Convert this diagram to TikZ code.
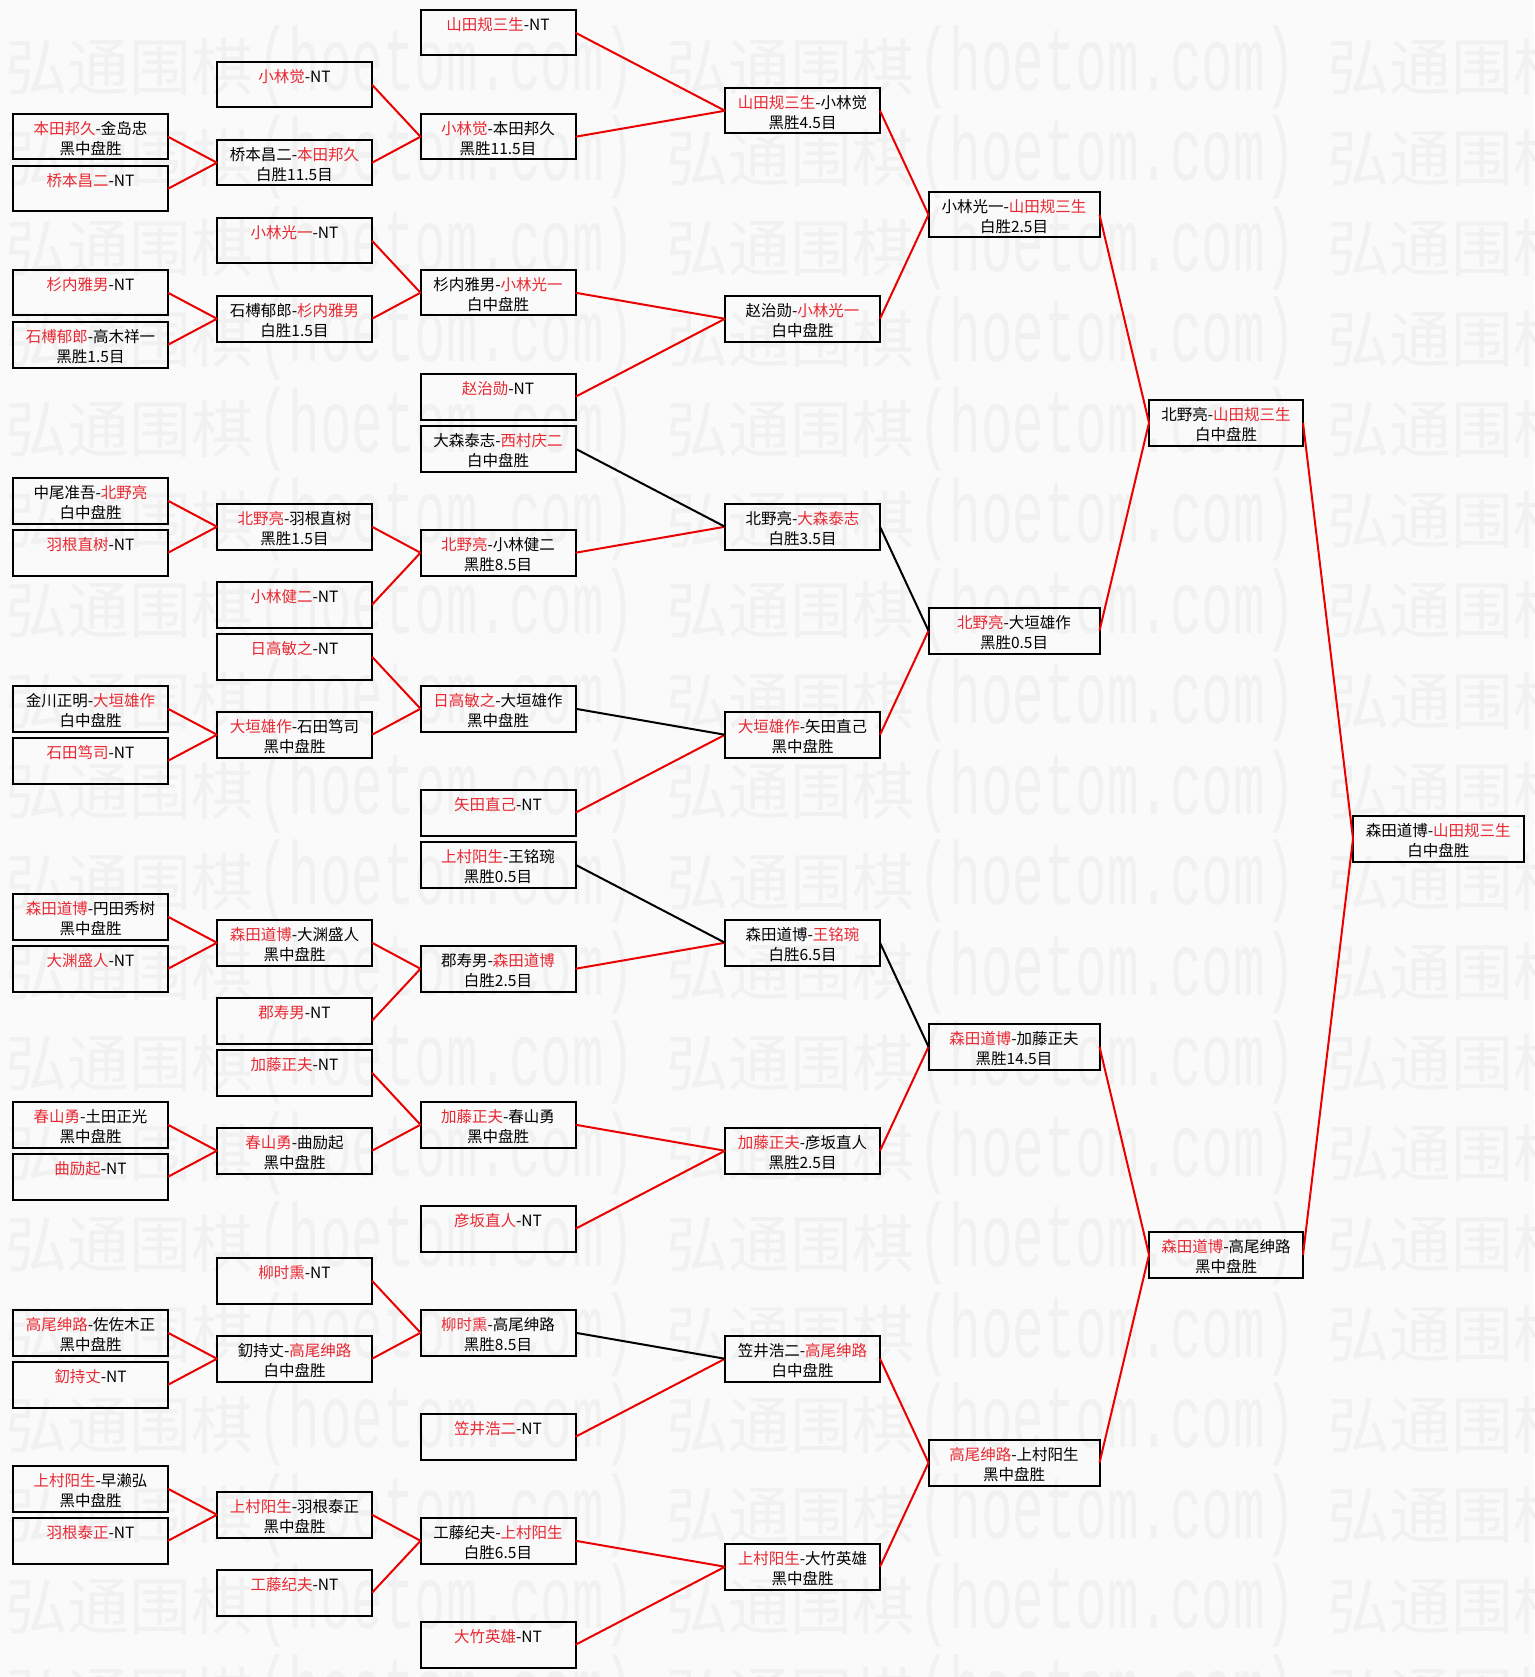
\documentclass[tikz,border=0pt]{standalone}
\usepackage{fontspec}
\usepackage{graphicx}
\setmainfont{Noto Sans CJK SC}
\newfontfamily\wmlatfont{Liberation Mono}
\definecolor{lnred}{RGB}{235,0,0}
\definecolor{txred}{RGB}{232,40,50}
\definecolor{bgc}{RGB}{250,250,250}
\definecolor{wmc}{RGB}{241,241,241}
\newcommand{\rn}[1]{\textcolor{txred}{#1}}
\newcommand{\gb}[5]{%
  \node[#2] (#1) at (0,{10+26*#3}) {};
  \node[gtxt] (#1-a) at ([yshift=-14.5pt]#1.north) {#4};
  \node[gtxt] (#1-b) at ([yshift=-34.5pt]#1.north) {#5};}
\newcommand{\gn}[4]{%
  \node[#2] (#1) at (0,{10+26*#3}) {};
  \node[gtxt] (#1-a) at ([yshift=-14.5pt]#1.north) {#4};}
\tikzset{
  gbox/.style={rectangle, draw=black, line width=2pt, minimum height=45.5pt, inner sep=0pt, outer sep=0pt, anchor=north west},
  c0/.style={gbox, minimum width=155pt, xshift=13pt},
  c1/.style={gbox, minimum width=155pt, xshift=217pt},
  c2/.style={gbox, minimum width=155pt, xshift=420.5pt},
  c3/.style={gbox, minimum width=155pt, xshift=725pt},
  c4/.style={gbox, minimum width=171pt, xshift=928.5pt},
  c5/.style={gbox, minimum width=154pt, xshift=1149pt},
  c6/.style={gbox, minimum width=170.5pt, xshift=1353pt},
  gtxt/.style={inner sep=0pt, text=black, font=\fontsize{15.5}{18}\selectfont},
  rl/.style={draw=lnred, line width=2pt},
  bl/.style={draw=black, line width=2pt},
  wmcj/.style={inner sep=0pt, anchor=west, text=wmc, font=\fontsize{62}{62}\selectfont},
  wmlt/.style={inner sep=0pt, anchor=west, text=wmc, font=\wmlatfont\fontsize{52.5}{52.5}\selectfont}
}
\begin{document}
\begin{tikzpicture}[x=1pt,y=-1pt]
\useasboundingbox (0,0) rectangle (1534,1677);
\fill[bgc] (0,0) rectangle (1534,1677);
\begin{scope}
\clip (0,0) rectangle (1534,1677);
\foreach \r in {0,...,18} {
  \foreach \c in {0,1,2} {
    \node[wmcj] (wc\r x\c) at ({5+661*\c},{67+90.5*\r}) {弘通围棋};
    \node[wmlt] (wl\r x\c) at ({5+661*\c+252},{67+90.5*\r}) {\scalebox{1}[1.7]{(hoetom.com)}};
  }
}
\end{scope}
% column 0
\gb{a1}{c0}{4}{\rn{本田邦久}-金岛忠}{黑中盘胜}
\gn{a2}{c0}{6}{\rn{桥本昌二}-NT}
\gn{a3}{c0}{10}{\rn{杉内雅男}-NT}
\gb{a4}{c0}{12}{\rn{石榑郁郎}-高木祥一}{黑胜1.5目}
\gb{a5}{c0}{18}{中尾准吾-\rn{北野亮}}{白中盘胜}
\gn{a6}{c0}{20}{\rn{羽根直树}-NT}
\gb{a7}{c0}{26}{金川正明-\rn{大垣雄作}}{白中盘胜}
\gn{a8}{c0}{28}{\rn{石田笃司}-NT}
\gb{a9}{c0}{34}{\rn{森田道博}-円田秀树}{黑中盘胜}
\gn{a10}{c0}{36}{\rn{大渊盛人}-NT}
\gb{a11}{c0}{42}{\rn{春山勇}-土田正光}{黑中盘胜}
\gn{a12}{c0}{44}{\rn{曲励起}-NT}
\gb{a13}{c0}{50}{\rn{高尾绅路}-佐佐木正}{黑中盘胜}
\gn{a14}{c0}{52}{\rn{釖持丈}-NT}
\gb{a15}{c0}{56}{\rn{上村阳生}-早濑弘}{黑中盘胜}
\gn{a16}{c0}{58}{\rn{羽根泰正}-NT}
% column 1
\gn{b1}{c1}{2}{\rn{小林觉}-NT}
\gb{b2}{c1}{5}{桥本昌二-\rn{本田邦久}}{白胜11.5目}
\gn{b3}{c1}{8}{\rn{小林光一}-NT}
\gb{b4}{c1}{11}{石榑郁郎-\rn{杉内雅男}}{白胜1.5目}
\gb{b5}{c1}{19}{\rn{北野亮}-羽根直树}{黑胜1.5目}
\gn{b6}{c1}{22}{\rn{小林健二}-NT}
\gn{b7}{c1}{24}{\rn{日高敏之}-NT}
\gb{b8}{c1}{27}{\rn{大垣雄作}-石田笃司}{黑中盘胜}
\gb{b9}{c1}{35}{\rn{森田道博}-大渊盛人}{黑中盘胜}
\gn{b10}{c1}{38}{\rn{郡寿男}-NT}
\gn{b11}{c1}{40}{\rn{加藤正夫}-NT}
\gb{b12}{c1}{43}{\rn{春山勇}-曲励起}{黑中盘胜}
\gn{b13}{c1}{48}{\rn{柳时熏}-NT}
\gb{b14}{c1}{51}{釖持丈-\rn{高尾绅路}}{白中盘胜}
\gb{b15}{c1}{57}{\rn{上村阳生}-羽根泰正}{黑中盘胜}
\gn{b16}{c1}{60}{\rn{工藤纪夫}-NT}
% column 2
\gn{c1}{c2}{0}{\rn{山田规三生}-NT}
\gb{c2}{c2}{4}{\rn{小林觉}-本田邦久}{黑胜11.5目}
\gb{c3}{c2}{10}{杉内雅男-\rn{小林光一}}{白中盘胜}
\gn{c4}{c2}{14}{\rn{赵治勋}-NT}
\gb{c5}{c2}{16}{大森泰志-\rn{西村庆二}}{白中盘胜}
\gb{c6}{c2}{20}{\rn{北野亮}-小林健二}{黑胜8.5目}
\gb{c7}{c2}{26}{\rn{日高敏之}-大垣雄作}{黑中盘胜}
\gn{c8}{c2}{30}{\rn{矢田直己}-NT}
\gb{c9}{c2}{32}{\rn{上村阳生}-王铭琬}{黑胜0.5目}
\gb{c10}{c2}{36}{郡寿男-\rn{森田道博}}{白胜2.5目}
\gb{c11}{c2}{42}{\rn{加藤正夫}-春山勇}{黑中盘胜}
\gn{c12}{c2}{46}{\rn{彦坂直人}-NT}
\gb{c13}{c2}{50}{\rn{柳时熏}-高尾绅路}{黑胜8.5目}
\gn{c14}{c2}{54}{\rn{笠井浩二}-NT}
\gb{c15}{c2}{58}{工藤纪夫-\rn{上村阳生}}{白胜6.5目}
\gn{c16}{c2}{62}{\rn{大竹英雄}-NT}
% column 3
\gb{d1}{c3}{3}{\rn{山田规三生}-小林觉}{黑胜4.5目}
\gb{d2}{c3}{11}{赵治勋-\rn{小林光一}}{白中盘胜}
\gb{d3}{c3}{19}{北野亮-\rn{大森泰志}}{白胜3.5目}
\gb{d4}{c3}{27}{\rn{大垣雄作}-矢田直己}{黑中盘胜}
\gb{d5}{c3}{35}{森田道博-\rn{王铭琬}}{白胜6.5目}
\gb{d6}{c3}{43}{\rn{加藤正夫}-彦坂直人}{黑胜2.5目}
\gb{d7}{c3}{51}{笠井浩二-\rn{高尾绅路}}{白中盘胜}
\gb{d8}{c3}{59}{\rn{上村阳生}-大竹英雄}{黑中盘胜}
% column 4
\gb{e1}{c4}{7}{小林光一-\rn{山田规三生}}{白胜2.5目}
\gb{e2}{c4}{23}{\rn{北野亮}-大垣雄作}{黑胜0.5目}
\gb{e3}{c4}{39}{\rn{森田道博}-加藤正夫}{黑胜14.5目}
\gb{e4}{c4}{55}{\rn{高尾绅路}-上村阳生}{黑中盘胜}
% column 5
\gb{f1}{c5}{15}{北野亮-\rn{山田规三生}}{白中盘胜}
\gb{f2}{c5}{47}{\rn{森田道博}-高尾绅路}{黑中盘胜}
% column 6
\gb{g1}{c6}{31}{森田道博-\rn{山田规三生}}{白中盘胜}
% connectors
\foreach \s/\t in {a1/b2,a2/b2,a3/b4,a4/b4,a5/b5,a6/b5,a7/b8,a8/b8,a9/b9,a10/b9,a11/b12,a12/b12,a13/b14,a14/b14,a15/b15,a16/b15,
  b1/c2,b2/c2,b3/c3,b4/c3,b5/c6,b6/c6,b7/c7,b8/c7,b9/c10,b10/c10,b11/c11,b12/c11,b13/c13,b14/c13,b15/c15,b16/c15,
  c1/d1,c2/d1,c3/d2,c4/d2,c6/d3,c8/d4,c10/d5,c11/d6,c12/d6,c14/d7,c15/d8,c16/d8,
  d1/e1,d2/e1,d4/e2,d6/e3,d7/e4,d8/e4,e1/f1,e2/f1,e3/f2,e4/f2,f1/g1,f2/g1}
  \draw[rl] (\s.east) -- (\t.west);
\foreach \s/\t in {c5/d3,c7/d4,c9/d5,c13/d7,d3/e2,d5/e3}
  \draw[bl] (\s.east) -- (\t.west);
\end{tikzpicture}
\end{document}
